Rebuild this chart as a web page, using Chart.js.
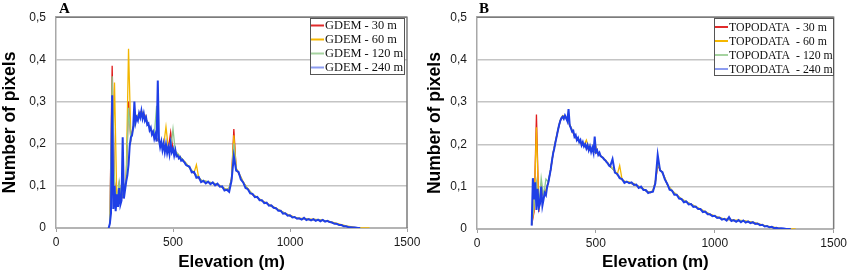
<!DOCTYPE html>
<html>
<head>
<meta charset="utf-8">
<script src="https://cdn.jsdelivr.net/npm/chart.js@4.4.0/dist/chart.umd.min.js"></script>
<style>
html, body { margin: 0; padding: 0; background: #fff; }
#wrap { position: relative; width: 850px; height: 273px; }
.panel { position: absolute; top: 0; width: 425px; height: 273px; }
</style>
</head>
<body>
<div id="wrap">
  <div class="panel" style="left:0"><canvas id="chartA" width="425" height="273"></canvas></div>
  <div class="panel" style="left:425px"><canvas id="chartB" width="425" height="273"></canvas></div>
</div>
<script>
// elevation grids (m)
const fineElev = [
  225, 230, 235, 240, 245, 250, 255, 260, 265, 270, 275, 280, 285, 290, 295, 300, 305, 310, 315, 320,
  325, 330, 335, 340, 345, 350, 355, 360, 365, 370, 375, 380, 385, 390, 395, 400, 405, 410, 415, 420,
  425, 430, 435, 440, 445, 450, 455, 460, 465, 470, 475, 480, 485, 490, 495, 500, 505, 510, 515, 520,
  525, 530, 535, 540, 545, 550, 555, 560,
  570, 580, 590, 600, 610, 620, 630, 640, 650, 660, 670, 680, 690, 700, 710, 720, 730, 740, 750, 760,
  770, 780, 790, 800, 810, 820, 830, 840, 850, 860, 870, 880, 890, 900, 910, 920, 930, 940, 950, 960,
  970, 980, 990, 1000, 1010, 1020, 1030, 1040, 1050, 1060, 1070, 1080, 1090, 1100, 1110, 1120, 1130, 1140, 1150, 1160,
  1170, 1180, 1190, 1200, 1210, 1220, 1230, 1240, 1250, 1260, 1270, 1280, 1290, 1300, 1310, 1320, 1330, 1340
];
const coarseElev = [
  230, 240, 250, 260, 270, 280, 290, 300, 310, 320, 330, 340, 350, 360, 370, 380, 390, 400, 410, 420,
  430, 440, 450, 460, 470, 480, 490, 500, 510, 520, 530, 540, 550, 560, 570, 580, 590, 600, 610, 620,
  630, 640, 650, 660, 670, 680, 690, 700, 710, 720, 730, 740, 750, 760, 770, 780, 790, 800,
  820, 840, 860, 880, 900, 920, 940, 960, 980, 1000, 1020, 1040, 1060, 1080, 1100, 1120, 1140, 1160, 1180, 1200,
  1220, 1240, 1260, 1280, 1300, 1320, 1340
];

const xTicks = [0, 500, 1000, 1500];
const yTicks = ["0", "0,1", "0,2", "0,3", "0,4", "0,5"];

// Panel A - GDEM
const gdemLabels = ["GDEM - 30 m", "GDEM - 60 m", "GDEM - 120 m", "GDEM - 240 m"];
const gdem30 = [
  .012, .385, .110, .060, .105, .070, .080, .115, .300, .210, .240, .255, .265, .275, .270, .268, .250, .240, .228, .220,
  .212, .205, .200, .195, .190, .188, .227, .185, .180, .175, .168, .162, .156, .150, .143, .136, .130, .124, .118, .113,
  .110, .110, .108, .107, .106, .104, .102, .100, .096, .093, .090, .094, .115, .235, .140, .130, .120, .108,
  .092, .079, .072, .064, .058, .052, .046, .040, .034, .029, .025, .022, .022, .020, .020, .019, .018, .016, .013, .010,
  .007, .004, .002, .001, 0, null, null
];
const gdem60 = [
  .010, .100, .345, .065, .100, .075, .085, .118, .425, .212, .238, .258, .268, .272, .275, .265, .252, .238, .230, .222,
  .214, .206, .202, .196, .240, .190, .186, .184, .182, .176, .170, .163, .157, .151, .144, .137, .131, .150, .119, .114,
  .111, .111, .109, .108, .107, .105, .103, .101, .097, .094, .091, .095, .117, .220, .142, .132, .121, .109,
  .093, .080, .073, .065, .059, .053, .047, .041, .035, .030, .026, .023, .023, .021, .021, .020, .018, .017, .014, .011,
  .008, .005, .003, .001, 0, 0, 0
];
const gdem120 = [
  .011, .360, .105, .062, .110, .072, .082, .116, .285, .208, .236, .256, .266, .274, .272, .266, .251, .239, .229, .221,
  .290, .205, .201, .196, .191, .189, .187, .235, .181, .176, .169, .163, .157, .150, .143, .137, .131, .125, .119, .114,
  .111, .111, .109, .108, .106, .105, .102, .100, .097, .093, .090, .095, .116, .200, .141, .131, .120, .108,
  .092, .080, .072, .064, .058, .052, .046, .040, .034, .029, .025, .022, .022, .020, .020, .019, .018, .016, .013, .010,
  .007, .004, .002, .001, 0, null, null
];
const gdem240 = [
  0, .010, .035, .315, .045, .100, .040, .080, .050, .095, .055, .065, .215, .070, .090, .110, .125, .150, .195, .215,
  .220, .240, .300, .250, .262, .255, .272, .262, .278, .260, .272, .255, .262, .245, .248, .232, .238, .222, .228, .212,
  .222, .205, .350, .210, .192, .205, .185, .200, .180, .198, .178, .192, .175, .200, .180, .188, .172, .185, .170, .172,
  .165, .168, .160, .162, .158, .155, .150, .148,
  .146, .132, .133, .119, .121, .109, .112, .106, .110, .104, .108, .101, .105, .098, .099, .089, .091, .086, .112, .170,
  .136, .133, .115, .108, .095, .092, .082, .081, .073, .074, .066, .066, .059, .060, .053, .054, .048, .047, .041, .041,
  .034, .035, .029, .030, .025, .026, .022, .023, .020, .024, .019, .021, .018, .021, .017, .020, .016, .019, .015, .017,
  .014, .013, .010, .010, .007, .007, .004, .004, .002, .002, .001, .001, 0, 0, null, null, null, null
];

// Panel B - TOPODATA
const topoLabels = ["TOPODATA  - 30 m", "TOPODATA  - 60 m", "TOPODATA  - 120 m", "TOPODATA  - 240 m"];
const topo30 = [
  .010, .040, .270, .040, .100, .075, .090, .110, .140, .178, .205, .232, .255, .265, .265, .256, .245, .232, .220, .212,
  .207, .200, .197, .192, .188, .185, .183, .180, .177, .172, .168, .162, .155, .148, .142, .136, .128, .123, .116, .112,
  .110, .110, .107, .106, .102, .100, .097, .094, .090, .087, .086, .090, .110, .150, .140, .132, .120, .105,
  .090, .080, .070, .064, .058, .052, .046, .040, .034, .030, .026, .023, .022, .020, .020, .019, .017, .015, .012, .009,
  .006, .004, .002, .001, 0, 0, null
];
const topo60 = [
  .012, .050, .240, .045, .095, .080, .092, .112, .142, .180, .207, .234, .257, .268, .266, .258, .247, .234, .222, .214,
  .208, .202, .198, .210, .190, .186, .184, .195, .178, .173, .169, .163, .156, .149, .143, .137, .129, .150, .117, .113,
  .111, .111, .108, .107, .103, .101, .098, .095, .091, .088, .087, .091, .111, .152, .141, .133, .121, .106,
  .091, .081, .071, .065, .059, .053, .047, .041, .035, .031, .027, .024, .023, .021, .021, .020, .018, .016, .013, .010,
  .007, .005, .003, .001, 0, 0, 0
];
const topo120 = [
  .010, .060, .110, .050, .120, .078, .118, .111, .141, .179, .206, .233, .256, .266, .265, .257, .246, .233, .221, .213,
  .208, .201, .198, .193, .189, .186, .184, .181, .178, .173, .168, .162, .155, .148, .142, .136, .128, .123, .116, .112,
  .110, .110, .107, .106, .102, .100, .097, .094, .090, .087, .086, .090, .110, .160, .140, .132, .120, .105,
  .090, .080, .070, .064, .058, .052, .046, .040, .034, .030, .026, .023, .022, .020, .020, .019, .017, .015, .012, .009,
  .006, .004, .002, .001, 0, null, null
];
const topo240 = [
  null, .008, .120, .070, .110, .045, .095, .050, .060, .100, .055, .070, .085, .080, .100, .110, .125, .140, .160, .178,
  .190, .205, .218, .232, .245, .255, .262, .265, .260, .268, .262, .255, .283, .245, .238, .230, .232, .218, .222, .210,
  .215, .205, .210, .198, .205, .195, .200, .190, .198, .186, .195, .182, .192, .180, .218, .182, .186, .175, .180, .172,
  .170, .168, .164, .162, .158, .155, .150, .148,
  .165, .133, .130, .120, .118, .109, .112, .108, .110, .104, .105, .097, .100, .092, .092, .085, .087, .088, .108, .175,
  .138, .134, .117, .107, .093, .091, .081, .081, .072, .071, .063, .065, .058, .059, .052, .053, .047, .047, .040, .041,
  .035, .035, .030, .031, .026, .027, .022, .024, .020, .028, .019, .021, .017, .021, .016, .020, .015, .018, .014, .016,
  .012, .013, .009, .010, .006, .007, .004, .005, .002, .003, .001, .002, .001, 0, 0, 0, null, null
];

const lineColors = ["#e01c1c", "#f2b600", "#8fc98f", "#1f3fe6"];
const legendColors = ["#e02a2a", "#f5b700", "#a6d3a0", "#8c9cf0"];
const lineWidths = [1.3, 1.3, 1.3, 2];
const drawOrder = [3, 2, 1, 0];

function points(xs, ys) {
  return xs.map((x, i) => ({ x: x, y: ys[i] }));
}

const panelDeco = {
  id: "panelDeco",
  afterDraw(chart, args, opts) {
    const { ctx, chartArea: a } = chart;
    ctx.save();
    // darker frame on top and right of the plot area
    ctx.strokeStyle = "#7c7c7c";
    ctx.lineWidth = 1.5;
    ctx.beginPath();
    ctx.moveTo(a.left, a.top);
    ctx.lineTo(a.right, a.top);
    ctx.lineTo(a.right, a.bottom);
    ctx.stroke();

    // panel letter
    ctx.fillStyle = "#000";
    ctx.font = "bold 15px 'Liberation Serif', 'Times New Roman', serif";
    ctx.textBaseline = "alphabetic";
    ctx.fillText(opts.letter, opts.letterX, 13);

    // legend box
    const b = opts.box;
    ctx.fillStyle = "#fff";
    ctx.fillRect(b.x, b.y, b.w, b.h);
    ctx.strokeStyle = "#555";
    ctx.lineWidth = 1;
    ctx.strokeRect(b.x + 0.5, b.y + 0.5, b.w, b.h);
    ctx.font = opts.fontSize + "px 'Liberation Serif', 'Times New Roman', serif";
    ctx.textBaseline = "middle";
    chart.data.datasets.forEach((ds, i) => {
      const y = b.y + opts.firstRow + i * opts.rowGap;
      ctx.strokeStyle = legendColors[i];
      ctx.lineWidth = 2;
      ctx.beginPath();
      ctx.moveTo(b.x + 1, y);
      ctx.lineTo(b.x + 14, y);
      ctx.stroke();
      ctx.fillStyle = "#111";
      ctx.fillText(ds.label, b.x + 15, y + 0.5);
    });
    ctx.restore();
  }
};

function makeChart(id, labels, xsList, ysList, cfg) {
  const datasets = labels.map((label, i) => ({
    label: label,
    data: points(xsList[i], ysList[i]),
    borderColor: lineColors[i],
    borderWidth: lineWidths[i],
    pointRadius: 0,
    tension: 0,
    fill: false,
    order: drawOrder[i]
  }));

  new Chart(document.getElementById(id), {
    type: "line",
    data: { datasets: datasets },
    plugins: [panelDeco],
    options: {
      responsive: false,
      animation: false,
      devicePixelRatio: 1,
      layout: { padding: { top: cfg.top, right: cfg.right, left: 0, bottom: 0 } },
      plugins: {
        legend: { display: false },
        tooltip: { enabled: false },
        panelDeco: cfg.deco
      },
      scales: {
        x: {
          type: "linear",
          min: 0,
          max: 1500,
          afterBuildTicks: (scale) => { scale.ticks = xTicks.map(v => ({ value: v })); },
          afterFit: (scale) => { scale.height = cfg.xHeight; },
          grid: { drawOnChartArea: false, drawTicks: true, tickLength: 4, color: "#a0a0a0" },
          border: { display: true, color: "#b4b4b4", width: 2 },
          ticks: {
            padding: 3,
            color: "#1a1a1a",
            font: { family: "'Liberation Sans', Arial, sans-serif", size: 12 },
            maxRotation: 0,
            callback: (v) => String(v)
          },
          title: {
            display: true,
            text: "Elevation (m)",
            color: "#000",
            padding: { top: 0, bottom: 0 },
            font: { family: "'Liberation Sans', Arial, sans-serif", size: 17, weight: "bold" }
          }
        },
        y: {
          min: 0,
          max: 0.5,
          afterBuildTicks: (scale) => { scale.ticks = yTicks.map((t, i) => ({ value: i / 10 })); },
          afterFit: (scale) => { scale.width = cfg.yWidth; },
          grid: { color: "#c4c4c4", lineWidth: 1.5, drawTicks: false },
          border: { display: true, color: "#a8a8a8", width: 1.5 },
          ticks: {
            padding: 10,
            color: "#1a1a1a",
            font: { family: "'Liberation Sans', Arial, sans-serif", size: 12 },
            callback: (v, i) => yTicks[i]
          },
          title: {
            display: true,
            text: "Number of pixels",
            color: "#000",
            padding: { top: 0, bottom: 0 },
            font: { family: "'Liberation Sans', Arial, sans-serif", size: 17.5, weight: "bold" }
          }
        }
      }
    }
  });
}

makeChart("chartA", gdemLabels,
  [coarseElev, coarseElev, coarseElev, fineElev],
  [gdem30, gdem60, gdem120, gdem240],
  {
    top: 15, right: 18, xHeight: 45, yWidth: 56,
    deco: { letter: "A", letterX: 59, box: { x: 310, y: 18, w: 94, h: 56 }, firstRow: 7.5, rowGap: 14, fontSize: 12.4 }
  });

makeChart("chartB", topoLabels,
  [coarseElev, coarseElev, coarseElev, fineElev],
  [topo30, topo60, topo120, topo240],
  {
    top: 16, right: 16, xHeight: 44, yWidth: 52,
    deco: { letter: "B", letterX: 54, box: { x: 289, y: 18, w: 119, h: 57 }, firstRow: 9, rowGap: 14, fontSize: 11.8 }
  });
</script>
</body>
</html>
